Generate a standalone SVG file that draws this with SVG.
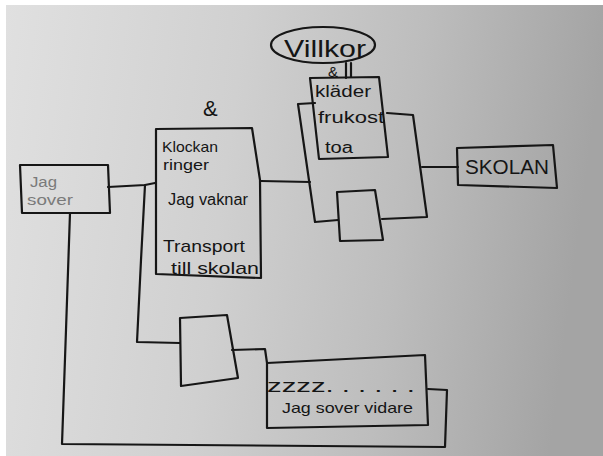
<svg xmlns="http://www.w3.org/2000/svg" width="603" height="456" viewBox="0 0 603 456">
<defs>
<linearGradient id="bg" x1="0" y1="0" x2="1" y2="0.1">
<stop offset="0" stop-color="#e0e0e0"/>
<stop offset="0.4" stop-color="#d0d0d0"/>
<stop offset="0.7" stop-color="#bdbdbd"/>
<stop offset="1" stop-color="#a4a4a4"/>
</linearGradient>
<style>
.s{fill:none;stroke:#161616;stroke-width:2.2;stroke-linejoin:round;stroke-linecap:round}
.t{font-family:"Liberation Sans",Arial,sans-serif;fill:#151515}
.f{fill:#7a7a7a}
</style>
</defs>
<rect width="603" height="456" fill="#ffffff"/>
<rect x="6" y="5" width="597" height="451" fill="url(#bg)"/>

<g id="connectors">
<path class="s" d="M108,187 L145,185 L155,183"/>
<path class="s" d="M145,185 L141,260 L137,342 L180,343"/>
<path class="s" d="M261,181 L310,182"/>
<path class="s" d="M422,167 L458,167"/>
<path class="s" d="M232,350 L265,349 L267,363"/>
<path class="s" d="M428,389 L447,390 L445,447 L62,444 L66,330 L70,213"/>
<path class="s" d="M346,63 L346,78 M351,63 L351,77"/>
</g>

<g id="jag-sover">
<path class="s" d="M20,165 L108,165 L110,213 L22,213 Z" stroke="#5a5a5a" stroke-width="1.6"/>
<text class="t f" x="30" y="187" style="font-size:14px" textLength="27" lengthAdjust="spacingAndGlyphs">Jag</text>
<text class="t f" x="27" y="205" style="font-size:15px" textLength="46" lengthAdjust="spacingAndGlyphs">sover</text>
</g>

<g id="main">
<text class="t" x="203" y="116" style="font-size:22px">&amp;</text>
<path class="s" d="M156,129 L252,128 L260,180 L261,278 L156,274 Z"/>
<text class="t" x="162" y="152" style="font-size:15px" textLength="56" lengthAdjust="spacingAndGlyphs">Klockan</text>
<text class="t" x="163" y="170" style="font-size:15px" textLength="46" lengthAdjust="spacingAndGlyphs">ringer</text>
<text class="t" x="168" y="205" style="font-size:16px" textLength="80" lengthAdjust="spacingAndGlyphs">Jag vaknar</text>
<text class="t" x="163" y="252" style="font-size:17px" textLength="82" lengthAdjust="spacingAndGlyphs">Transport</text>
<text class="t" x="171" y="274" style="font-size:17px" textLength="88" lengthAdjust="spacingAndGlyphs">till skolan</text>
</g>

<g id="villkor">
<ellipse class="s" cx="323" cy="45" rx="52" ry="18"/>
<text class="t" x="284" y="57" style="font-size:24px" textLength="82" lengthAdjust="spacingAndGlyphs">Villkor</text>
<text class="t" x="328" y="77" style="font-size:15px">&amp;</text>
</g>

<g id="condition">
<path class="s" d="M315,103 L298,104 L315,222 L338,220"/>
<path class="s" d="M382,219 L427,217 L413,115 L387,113"/>
<path class="s" d="M337,192 L375,190 L383,240 L340,241 Z"/>
</g>

<g id="klader">
<path class="s" d="M310,78 L379,77 L388,157 L319,159 Z"/>
<text class="t" x="315" y="97" style="font-size:16px" textLength="56" lengthAdjust="spacingAndGlyphs">kläder</text>
<text class="t" x="318" y="123" style="font-size:16px" textLength="66" lengthAdjust="spacingAndGlyphs">frukost</text>
<text class="t" x="325" y="153" style="font-size:16px" textLength="28" lengthAdjust="spacingAndGlyphs">toa</text>
</g>

<g id="skolan">
<path class="s" d="M457,148 L553,145 L557,188 L458,185 Z"/>
<text class="t" x="465" y="174" style="font-size:20px" textLength="84" lengthAdjust="spacingAndGlyphs">SKOLAN</text>
</g>

<g id="gate">
<path class="s" d="M180,318 L227,315 L238,378 L181,386 Z"/>
</g>

<g id="sover-vidare">
<path class="s" d="M267,363 L425,355 L428,425 L267,428 Z"/>
<text class="t" x="267" y="392" style="font-size:18px" textLength="148" lengthAdjust="spacingAndGlyphs">zzzz. . . . . .</text>
<text class="t" x="282" y="413" style="font-size:15px" textLength="131" lengthAdjust="spacingAndGlyphs">Jag sover vidare</text>
</g>
</svg>
